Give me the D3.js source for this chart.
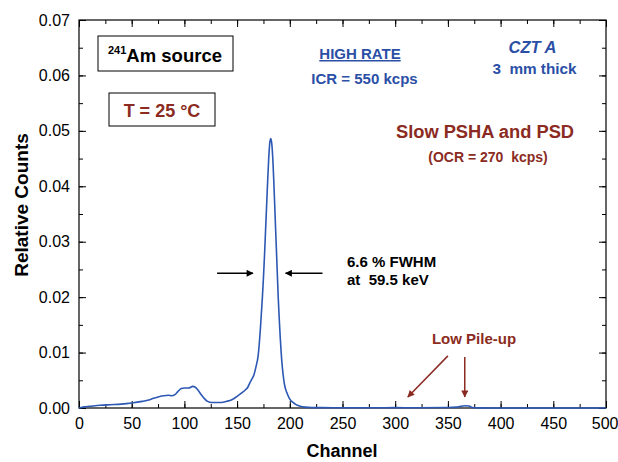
<!DOCTYPE html>
<html>
<head>
<meta charset="utf-8">
<script src="https://cdn.jsdelivr.net/npm/d3@7"></script>
<style>
  body { margin: 0; background: #fff; }
  svg { font-family: "Liberation Sans", Arial, sans-serif; }
</style>
</head>
<body>
<div id="chart"></div>
<script>
// Spectre : canal et comptage relatif.
const channels = [
  0, 5, 10, 20, 30, 40, 50, 60, 65, 70, 75, 80, 85, 88, 91, 94, 97, 100, 104,
  108, 110, 113, 116, 119, 122, 126, 130, 135, 140, 145, 150, 155, 158, 160,
  162, 164, 166, 168, 170, 171, 172, 173, 174, 175, 176, 177, 178, 179, 180,
  181, 182, 183, 184, 185, 186, 187, 188, 189, 190, 191, 192, 193, 194, 195,
  196, 198, 200, 203, 206, 210, 215, 220, 230, 250, 280, 300, 320, 350, 358,
  362, 366, 370, 373, 380, 400, 500,
];
const counts = [
  0, 0.0002, 0.0003, 0.0005, 0.0006, 0.0007, 0.0009, 0.0012, 0.0014, 0.0017,
  0.002, 0.0022, 0.0023, 0.0022, 0.0024, 0.003, 0.0035, 0.0036, 0.0036,
  0.0039, 0.0038, 0.0032, 0.0024, 0.0017, 0.0012, 0.001, 0.001, 0.001, 0.0012,
  0.0015, 0.0021, 0.0028, 0.0033, 0.0037, 0.0045, 0.0052, 0.006, 0.0075,
  0.0095, 0.0115, 0.014, 0.017, 0.02, 0.0235, 0.0275, 0.032, 0.0365, 0.041,
  0.045, 0.0478, 0.0486, 0.0475, 0.0445, 0.04, 0.035, 0.03, 0.025, 0.02,
  0.016, 0.0125, 0.0095, 0.0072, 0.0055, 0.0042, 0.0034, 0.0024, 0.0016, 0.001,
  0.0006, 0.0003, 0.00015, 0.0001, 0.00006, 0.00004, 0.00005, 0.00006,
  0.00004, 0.00008, 0.00015, 0.0003, 0.0004, 0.00035, 0.0001, 0.00002, 0, 0,
];
const xTicks = [0, 50, 100, 150, 200, 250, 300, 350, 400, 450, 500];
const yTicks = [0, 0.01, 0.02, 0.03, 0.04, 0.05, 0.06, 0.07];

const W = 618, H = 462;
const margin = { top: 20, right: 12, bottom: 54, left: 79 };
const blue = "#2c58b4";
const textBlue = "#2b4fa6";
const darkRed = "#8b2b22";

const svg = d3.select("#chart").append("svg").attr("width", W).attr("height", H);

const x = d3.scaleLinear().domain([0, 500]).range([margin.left, W - margin.right]);
const y = d3.scaleLinear().domain([0, 0.07]).range([H - margin.bottom, margin.top]);

// Marqueurs de flèches.
const defs = svg.append("defs");
function marker(id, color) {
  defs.append("marker")
    .attr("id", id)
    .attr("viewBox", "0 0 10 10")
    .attr("refX", 9).attr("refY", 5)
    .attr("markerWidth", 10).attr("markerHeight", 7)
    .attr("markerUnits", "userSpaceOnUse")
    .attr("orient", "auto")
    .append("path").attr("d", "M0,0 L10,5 L0,10 Z").attr("fill", color);
}
marker("arrowBlack", "#000");
marker("arrowRed", darkRed);

// Axes : graduations vers l'intérieur sur les quatre côtés.
const minorX = d3.range(0, 501, 25);
const minorY = d3.range(0, 0.0701, 0.005);
function drawAxis(axis, transform, labels) {
  const g = svg.append("g").attr("transform", transform).call(axis);
  g.select(".domain").remove();
  g.selectAll("line").attr("stroke", "#000");
  g.selectAll("text").style("font-size", "16px").attr("fill", "#000");
  if (!labels) g.selectAll("text").remove();
  return g;
}
const bottom = H - margin.bottom, left = margin.left, right = W - margin.right;
drawAxis(d3.axisBottom(x).tickValues(minorX).tickSize(-4).tickFormat(""), `translate(0,${bottom})`, false);
const xAxisG = drawAxis(d3.axisBottom(x).tickValues(xTicks).tickSize(-7).tickPadding(10).tickFormat(d3.format("d")), `translate(0,${bottom})`, true);
// Le dernier libellé touche le bord droit : on le décale un peu.
xAxisG.selectAll("text").filter((d) => d === 500).attr("text-anchor", "end").attr("dx", 12);
drawAxis(d3.axisTop(x).tickValues(minorX).tickSize(-4).tickFormat(""), `translate(0,${margin.top})`, false);
drawAxis(d3.axisTop(x).tickValues(xTicks).tickSize(-7).tickFormat(""), `translate(0,${margin.top})`, false);
drawAxis(d3.axisLeft(y).tickValues(minorY).tickSize(-4).tickFormat(""), `translate(${left},0)`, false);
drawAxis(d3.axisLeft(y).tickValues(yTicks).tickSize(-7).tickPadding(9).tickFormat(d3.format(".2f")), `translate(${left},0)`, true);
drawAxis(d3.axisRight(y).tickValues(minorY).tickSize(-4).tickFormat(""), `translate(${right},0)`, false);
drawAxis(d3.axisRight(y).tickValues(yTicks).tickSize(-7).tickFormat(""), `translate(${right},0)`, false);

svg.append("rect")
  .attr("x", left).attr("y", margin.top)
  .attr("width", right - left).attr("height", bottom - margin.top)
  .attr("fill", "none").attr("stroke", "#000").attr("stroke-width", 1.2);

// Courbe.
const line = d3.line()
  .x((d, i) => x(channels[i]))
  .y((d) => y(d))
  .curve(d3.curveMonotoneX);
svg.append("path")
  .datum(counts)
  .attr("d", line)
  .attr("fill", "none")
  .attr("stroke", blue)
  .attr("stroke-width", 1.6);

// Titres des axes.
svg.append("text")
  .attr("x", 342).attr("y", 457)
  .attr("text-anchor", "middle")
  .style("font-size", "18px").style("font-weight", "bold")
  .text("Channel");
svg.append("text")
  .attr("transform", "translate(28,205) rotate(-90)")
  .attr("text-anchor", "middle")
  .style("font-size", "19px").style("font-weight", "bold")
  .text("Relative Counts");

// Encadrés.
svg.append("rect").attr("x", 98).attr("y", 36).attr("width", 135).attr("height", 35)
  .attr("fill", "none").attr("stroke", "#000");
const am = svg.append("text").attr("x", 108).attr("y", 62)
  .style("font-weight", "bold").style("font-size", "18.5px");
am.append("tspan").attr("dy", -8).style("font-size", "11px").text("241");
am.append("tspan").attr("dy", 8).text("Am source");

svg.append("rect").attr("x", 109).attr("y", 93).attr("width", 106).attr("height", 33)
  .attr("fill", "none").attr("stroke", "#000");
svg.append("text").attr("x", 162).attr("y", 117).attr("text-anchor", "middle")
  .style("font-weight", "bold").style("font-size", "18px").attr("fill", darkRed)
  .text("T = 25 °C");

// Annotations (y = ligne de base).
function label(txt, cx, by, size, color, opts = {}) {
  return svg.append("text")
    .attr("x", cx).attr("y", by)
    .attr("text-anchor", opts.anchor || "middle")
    .style("font-size", size + "px")
    .style("font-weight", "bold")
    .style("font-style", opts.italic ? "italic" : "normal")
    .style("text-decoration", opts.underline ? "underline" : "none")
    .style("white-space", "pre")
    .attr("fill", color)
    .text(txt);
}
label("HIGH RATE", 360, 59, 15, textBlue, { underline: true });
label("ICR = 550 kcps", 364.5, 84, 15, textBlue);
label("CZT A", 532.5, 53, 16.5, textBlue, { italic: true });
label("3  mm thick", 534.5, 74, 15.3, textBlue);
label("Slow PSHA and PSD", 485, 138, 18.3, darkRed);
label("(OCR = 270  kcps)", 488, 162, 14, darkRed);
label("6.6 % FWHM", 347, 266.5, 15, "#000", { anchor: "start" });
label("at  59.5 keV", 347, 285, 15, "#000", { anchor: "start" });
label("Low Pile-up", 474, 344, 15, darkRed);

// Flèches en unités de données.
function arrow(x1, y1, x2, y2, color, id) {
  svg.append("line")
    .attr("x1", x(x1)).attr("y1", y(y1))
    .attr("x2", x(x2)).attr("y2", y(y2))
    .attr("stroke", color).attr("stroke-width", 1.5)
    .attr("marker-end", `url(#${id})`);
}
arrow(131, 0.0243, 165, 0.0243, "#000", "arrowBlack");
arrow(231, 0.0243, 196, 0.0243, "#000", "arrowBlack");
arrow(350, 0.0094, 312, 0.002, darkRed, "arrowRed");
arrow(366, 0.0092, 366, 0.002, darkRed, "arrowRed");
</script>
</body>
</html>
